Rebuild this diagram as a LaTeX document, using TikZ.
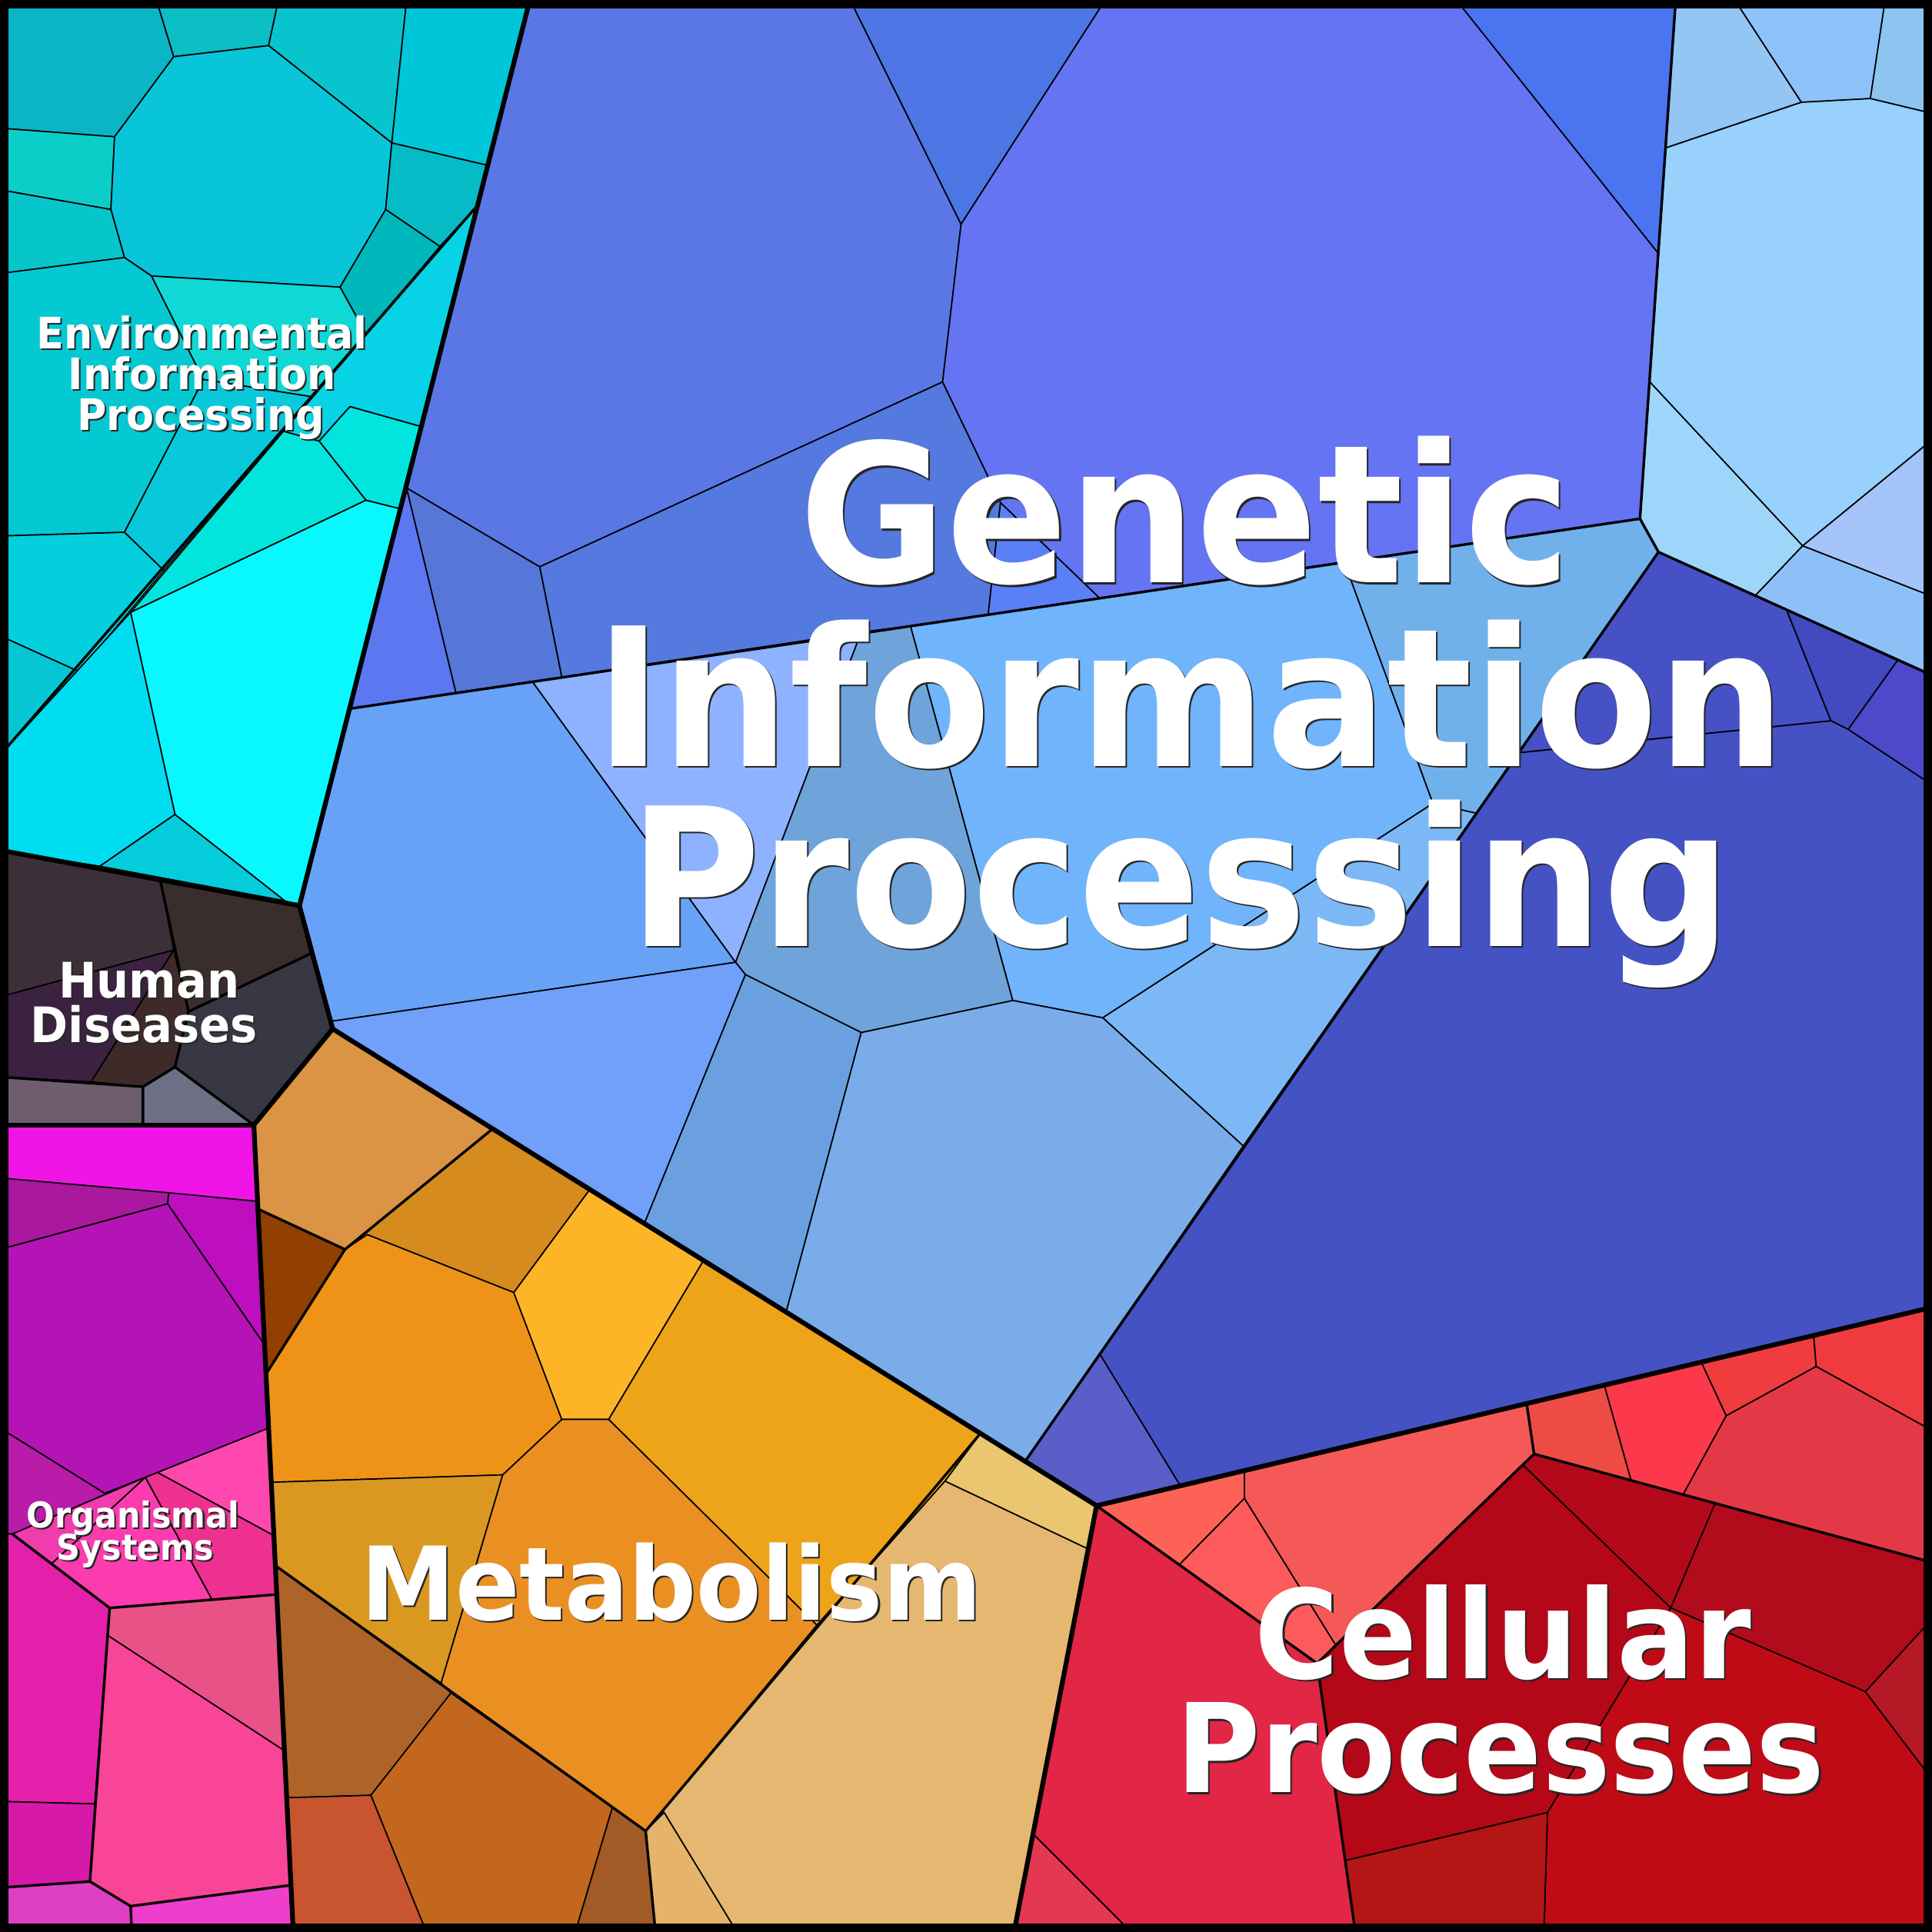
\documentclass[tikz,border=0pt]{standalone}
\usepackage{fontspec}
\usepackage{xcolor}
\usepackage{graphicx}
\newfontfamily\lblfont{DejaVu Sans}
\tikzset{
  cell/.style={draw=black, line width=0.3pt, line join=round},
  cf/.code={\definecolor{cellc}{HTML}{#1}\pgfkeysalso{fill=cellc}},
  mid/.style={draw=black, line width=0.6pt, line join=round, line cap=round},
  sect/.style={draw=black, line width=1.1pt, line join=round, line cap=round},
  lbl/.style={text=white, inner sep=0pt, anchor=base},
}
\newcommand{\shtxt}[1]{\scalebox{0.93}[1]{\rlap{\textcolor{black!85}{\kern0.4pt\raisebox{-0.4pt}{#1}}}#1}}

\begin{document}
\begin{tikzpicture}[x=0.01cm,y=-0.01cm]
  \useasboundingbox (0,0) rectangle (1568,1568);
  % environmental information processing
  \path[cell,cf=0BB5C5] (0,0)--(127,0)--(141,46)--(93,111)--(0,104)--cycle;
  \path[cell,cf=0BBFC4] (127,0)--(226,0)--(218,37)--(141,46)--cycle;
  \path[cell,cf=08C4CC] (226,0)--(330,0)--(318,116)--(218,37)--cycle;
  \path[cell,cf=00C6DA] (330,0)--(430,0)--(395,134)--(318,116)--cycle;
  \path[cell,cf=0CCEC8] (0,104)--(93,111)--(90,170)--(0,154)--cycle;
  \path[cell,cf=08C5DA] (141,46)--(218,37)--(318,116)--(313,170)--(276,233)--(123,224)--(101,209)--(90,170)--(93,111)--cycle;
  \path[cell,cf=05BCC6] (318,116)--(395,134)--(389,165)--(357,200)--(313,170)--cycle;
  \path[cell,cf=00B8BC] (313,170)--(357,200)--(297,271)--(276,233)--cycle;
  \path[cell,cf=06C6CC] (0,154)--(90,170)--(101,209)--(0,222)--cycle;
  \path[cell,cf=04C9D2] (0,222)--(101,209)--(123,224)--(165,308)--(101,432)--(0,435)--cycle;
  \path[cell,cf=0FD8D5] (123,224)--(276,233)--(297,271)--(253,322)--(165,308)--cycle;
  \path[cell,cf=08C8DC] (165,308)--(253,322)--(133,463)--(101,432)--cycle;
  \path[cell,cf=04D0DD] (0,435)--(101,432)--(133,463)--(64,545)--(0,516)--cycle;
  \path[cell,cf=05C6D2] (0,516)--(64,545)--(0,613)--cycle;
  \path[cell,cf=08D3E6] (389,165)--(341,346)--(284,330)--(259,358)--(230,350)--cycle;
  \path[cell,cf=00E6DE] (284,330)--(341,346)--(325,413)--(297,406)--(259,358)--cycle;
  \path[cell,cf=02E5DC] (230,350)--(259,358)--(297,406)--(106,497)--cycle;
  \path[cell,cf=08F8FF] (106,497)--(297,406)--(325,413)--(243,735)--(231,731)--(142,661)--cycle;
  \path[cell,cf=00DDF0] (0,613)--(106,497)--(142,661)--(81,703)--(0,690)--cycle;
  \path[cell,cf=05CCDB] (142,661)--(231,731)--(81,703)--cycle;
  % genetic information processing
  \path[cell,cf=5B77E6] (430,0)--(690,0)--(780,182)--(765,310)--(438,460)--(330,396)--cycle;
  \path[cell,cf=4B76E3] (690,0)--(897,0)--(780,182)--cycle;
  \path[cell,cf=6574F2] (780,182)--(897,0)--(1182,0)--(1347,207)--(1331,421)--(893,486)--(812,408)--(765,310)--cycle;
  \path[cell,cf=4B74F1] (1182,0)--(1360,0)--(1347,207)--cycle;
  \path[cell,cf=5479DF] (438,460)--(765,310)--(812,408)--(802,499)--(456,550)--cycle;
  \path[cell,cf=5A80F7] (812,408)--(893,486)--(802,499)--cycle;
  \path[cell,cf=5B78F0] (330,396)--(370,562)--(285,575)--cycle;
  \path[cell,cf=5677D8] (330,396)--(438,460)--(456,550)--(370,562)--cycle;
  \path[cell,cf=93C6F2] (1360,0)--(1408,0)--(1462,83)--(1352,120)--cycle;
  \path[cell,cf=8DC2FA] (1408,0)--(1530,0)--(1518,80)--(1462,83)--cycle;
  \path[cell,cf=8EC4F0] (1530,0)--(1568,0)--(1568,92)--(1518,80)--cycle;
  \path[cell,cf=97D1FC] (1352,120)--(1462,83)--(1518,80)--(1568,92)--(1568,357)--(1463,443)--(1339,310)--cycle;
  \path[cell,cf=9ED6FB] (1339,310)--(1463,443)--(1424,484)--(1346,448)--(1331,421)--cycle;
  \path[cell,cf=A4C4FA] (1463,443)--(1568,357)--(1568,484)--cycle;
  \path[cell,cf=8EC0F8] (1424,484)--(1463,443)--(1568,484)--(1568,548)--cycle;
  \path[cell,cf=4651C5] (1346,448)--(1450,495)--(1486,585)--(1232,611)--cycle;
  \path[cell,cf=434AC0] (1450,495)--(1540,536)--(1500,592)--(1486,585)--cycle;
  \path[cell,cf=4E49C9] (1540,536)--(1568,548)--(1568,637)--(1500,592)--cycle;
  \path[cell,cf=4552C4] (1232,611)--(1486,585)--(1500,592)--(1568,637)--(1568,1061)--(958,1206)--(892,1098)--cycle;
  \path[cell,cf=5A5EC8] (892,1098)--(958,1206)--(890,1222)--(832,1186)--cycle;
  \path[cell,cf=68A2F7] (285,575)--(432,553)--(597,781)--(268,829)--(243,735)--cycle;
  \path[cell,cf=8EB2FF] (432,553)--(699,513)--(597,781)--cycle;
  \path[cell,cf=6EA4DA] (699,513)--(739,508)--(822,812)--(699,838)--(605,791)--(597,781)--cycle;
  \path[cell,cf=70B4FC] (739,508)--(1091,456)--(1163,652)--(895,826)--(822,812)--cycle;
  \path[cell,cf=70B1EC] (1091,456)--(1331,421)--(1346,448)--(1198,660)--(1163,652)--cycle;
  \path[cell,cf=7CB8F6] (895,826)--(1163,652)--(1198,660)--(1009,930)--cycle;
  \path[cell,cf=70A0F9] (268,829)--(597,781)--(605,791)--(523,993)--(270,835)--cycle;
  \path[cell,cf=6BA0E0] (605,791)--(699,838)--(638,1065)--(523,993)--cycle;
  \path[cell,cf=7AACEA] (699,838)--(822,812)--(895,826)--(1009,930)--(832,1186)--(638,1065)--cycle;
  % human diseases
  \path[cell,cf=3D2F37] (0,690)--(130,714)--(141,771)--(0,809)--cycle;
  \path[cell,cf=3A2E2C] (130,714)--(243,735)--(252,774)--(153,821)--cycle;
  \path[cell,cf=3B2240] (0,809)--(141,771)--(74,878)--(0,874)--cycle;
  \path[cell,cf=3D2A29] (141,771)--(153,821)--(142,866)--(116,882)--(74,878)--cycle;
  \path[cell,cf=373843] (153,821)--(252,774)--(270,835)--(206,913)--(142,866)--cycle;
  \path[cell,cf=6D5D6F] (0,874)--(116,882)--(116,913)--(0,913)--cycle;
  \path[cell,cf=6D6F84] (116,882)--(142,866)--(206,913)--(116,913)--cycle;
  % organismal systems
  \path[cell,cf=F015E6] (0,913)--(206,913)--(209,975)--(0,956)--cycle;
  \path[cell,cf=A9189F] (0,956)--(137,968)--(136,977)--(0,1014)--cycle;
  \path[cell,cf=BD0FBF] (137,968)--(209,975)--(215,1092)--(136,977)--cycle;
  \path[cell,cf=B414B5] (0,1014)--(136,977)--(215,1092)--(218,1159)--(128,1195)--(118,1199)--(85,1212)--(0,1159)--cycle;
  \path[cell,cf=B81CA8] (0,1159)--(85,1212)--(118,1199)--(10,1245)--(0,1245)--cycle;
  \path[cell,cf=F03CAC] (10,1245)--(118,1199)--(42,1269)--cycle;
  \path[cell,cf=FA3CAF] (42,1269)--(118,1199)--(172,1298)--(89,1305)--cycle;
  \path[cell,cf=EE3190] (118,1199)--(128,1195)--(222,1246)--(225,1294)--(172,1298)--cycle;
  \path[cell,cf=FE48B0] (128,1195)--(218,1159)--(222,1246)--cycle;
  \path[cell,cf=E420AA] (0,1245)--(10,1245)--(89,1305)--(77,1464)--(0,1462)--cycle;
  \path[cell,cf=E85287] (89,1305)--(225,1294)--(231,1421)--(87,1327)--cycle;
  \path[cell,cf=F84597] (87,1327)--(231,1421)--(236,1530)--(106,1547)--(73,1527)--(77,1464)--cycle;
  \path[cell,cf=D619A8] (0,1462)--(77,1464)--(73,1527)--(0,1532)--cycle;
  \path[cell,cf=DD40C3] (0,1532)--(73,1527)--(106,1547)--(107,1568)--(0,1568)--cycle;
  \path[cell,cf=EE3FCC] (106,1547)--(236,1530)--(238,1568)--(107,1568)--cycle;
  % metabolism
  \path[cell,cf=DB9344] (270,835)--(400,916)--(280,1014)--(209,981)--(206,913)--cycle;
  \path[cell,cf=D58B1D] (400,916)--(479,965)--(417,1049)--(298,1002)--(280,1014)--cycle;
  \path[cell,cf=924002] (209,981)--(280,1014)--(216,1115)--cycle;
  \path[cell,cf=EE9317] (280,1014)--(298,1002)--(417,1049)--(456,1152)--(408,1197)--(220,1203)--(216,1115)--cycle;
  \path[cell,cf=FDB527] (479,965)--(571,1023)--(494,1152)--(456,1152)--(417,1049)--cycle;
  \path[cell,cf=EEA419] (571,1023)--(796,1163)--(767,1202)--(663,1319)--(494,1152)--cycle;
  \path[cell,cf=DA9821] (220,1203)--(408,1197)--(358,1366)--(224,1271)--cycle;
  \path[cell,cf=EA9022] (408,1197)--(456,1152)--(494,1152)--(663,1319)--(524,1486)--(366,1374)--(358,1366)--cycle;
  \path[cell,cf=E5B770] (767,1202)--(883,1257)--(823,1568)--(598,1568)--(539,1471)--(524,1486)--(663,1319)--cycle;
  \path[cell,cf=E9C66F] (796,1163)--(832,1186)--(890,1222)--(883,1257)--(767,1202)--cycle;
  \path[cell,cf=AE6428] (224,1271)--(358,1366)--(366,1374)--(301,1457)--(233,1459)--cycle;
  \path[cell,cf=C2671D] (366,1374)--(497,1467)--(467,1568)--(346,1568)--(301,1457)--cycle;
  \path[cell,cf=C85430] (233,1459)--(301,1457)--(346,1568)--(238,1568)--cycle;
  \path[cell,cf=A25A26] (497,1467)--(524,1486)--(532,1568)--(467,1568)--cycle;
  \path[cell,cf=E5B46A] (524,1486)--(539,1471)--(598,1568)--(532,1568)--cycle;
  % cellular processes
  \path[cell,cf=FD6256] (890,1222)--(1010,1194)--(1010,1216)--(957,1270)--cycle;
  \path[cell,cf=FD5A5B] (1010,1216)--(957,1270)--(1069,1350)--(1084,1335)--cycle;
  \path[cell,cf=F45957] (1010,1194)--(1239,1139)--(1245,1180)--(1084,1335)--(1010,1216)--cycle;
  \path[cell,cf=EF4B45] (1239,1139)--(1302,1124)--(1324,1202)--(1245,1180)--cycle;
  \path[cell,cf=FC394C] (1302,1124)--(1381,1106)--(1401,1149)--(1366,1213)--(1324,1202)--cycle;
  \path[cell,cf=EF3C3F] (1381,1106)--(1472,1084)--(1474,1109)--(1401,1149)--cycle;
  \path[cell,cf=EF3B3F] (1472,1084)--(1568,1061)--(1568,1161)--(1474,1109)--cycle;
  \path[cell,cf=E43846] (1401,1149)--(1474,1109)--(1568,1161)--(1568,1268)--(1366,1213)--cycle;
  \path[cell,cf=B4091A] (1245,1180)--(1392,1220)--(1356,1305)--(1236,1189)--cycle;
  \path[cell,cf=B40718] (1236,1189)--(1356,1305)--(1256,1471)--(1092,1510)--(1069,1350)--(1084,1335)--cycle;
  \path[cell,cf=B20B1C] (1392,1220)--(1568,1268)--(1568,1314)--(1514,1373)--(1356,1305)--cycle;
  \path[cell,cf=C00B16] (1356,1305)--(1514,1373)--(1568,1444)--(1568,1568)--(1253,1568)--(1256,1471)--cycle;
  \path[cell,cf=B41925] (1514,1373)--(1568,1314)--(1568,1444)--cycle;
  \path[cell,cf=B31614] (1092,1510)--(1256,1471)--(1253,1568)--(1100,1568)--cycle;
  \path[cell,cf=E12646] (890,1222)--(1069,1350)--(1100,1568)--(918,1568)--(839,1489)--cycle;
  \path[cell,cf=E53753] (839,1489)--(918,1568)--(823,1568)--cycle;
  % group borders
  \draw[mid] (389,165)--(0,613);
  \draw[mid] (285,575)--(1331,421);
  \draw[mid] (1360,0)--(1331,421)--(1346,448)--(1568,548);
  \draw[mid] (1346,448)--(832,1186);
  \draw[mid] (130,714)--(153,821)--(252,774);
  \draw[mid] (153,821)--(142,866)--(206,913);
  \draw[mid] (142,866)--(116,882)--(116,913);
  \draw[mid] (0,874)--(116,882);
  \draw[mid] (10,1245)--(89,1305)--(225,1294);
  \draw[mid] (89,1305)--(73,1527)--(106,1547)--(236,1530);
  \draw[mid] (0,1532)--(73,1527);
  \draw[mid] (106,1547)--(107,1568);
  \draw[mid] (209,981)--(280,1014)--(216,1115);
  \draw[mid] (280,1014)--(400,916);
  \draw[mid] (224,1271)--(524,1486)--(796,1163);
  \draw[mid] (524,1486)--(532,1568);
  \draw[mid] (890,1222)--(1069,1350)--(1100,1568);
  \draw[mid] (1239,1139)--(1245,1180)--(1069,1350);
  \draw[mid] (1245,1180)--(1568,1268);
  % top level borders
  \draw[sect] (430,0)--(243,735)--(270,835)--(832,1186)--(890,1222)--(1568,1061);
  \draw[sect] (0,690)--(243,735);
  \draw[sect] (270,835)--(206,913)--(238,1568);
  \draw[sect] (0,913)--(206,913);
  \draw[sect] (890,1222)--(823,1568);
  \draw[black, line width=4pt] (0,0) rectangle (1568,1568);
  % labels
  \node[lbl, font=\lblfont\bfseries\fontsize{44.5}{42}\selectfont] (gip1) at (962,473) {\shtxt{Genetic}};
  \node[lbl, font=\lblfont\bfseries\fontsize{44.5}{42}\selectfont] (gip2) at (966,622) {\shtxt{Information}};
  \node[lbl, font=\lblfont\bfseries\fontsize{44.5}{42}\selectfont] (gip3) at (958,768) {\shtxt{Processing}};
  \node[lbl, font=\lblfont\bfseries\fontsize{10}{9.4}\selectfont] (eip1) at (164,283) {\shtxt{Environmental}};
  \node[lbl, font=\lblfont\bfseries\fontsize{10}{9.4}\selectfont] (eip2) at (164,316) {\shtxt{Information}};
  \node[lbl, font=\lblfont\bfseries\fontsize{10}{9.4}\selectfont] (eip3) at (163,349) {\shtxt{Processing}};
  \node[lbl, font=\lblfont\bfseries\fontsize{11.3}{10.2}\selectfont] (hd1) at (121,810) {\shtxt{Human}};
  \node[lbl, font=\lblfont\bfseries\fontsize{11.3}{10.2}\selectfont] (hd2) at (117,846) {\shtxt{Diseases}};
  \node[lbl, font=\lblfont\bfseries\fontsize{8.2}{7.4}\selectfont] (os1) at (108,1240) {\shtxt{Organismal}};
  \node[lbl, font=\lblfont\bfseries\fontsize{8.2}{7.4}\selectfont] (os2) at (110,1266) {\shtxt{Systems}};
  \node[lbl, font=\lblfont\bfseries\fontsize{23.5}{24}\selectfont] (met) at (545,1315) {\shtxt{Metabolism}};
  \node[lbl, font=\lblfont\bfseries\fontsize{28.5}{26}\selectfont] (cp1) at (1220,1362) {\shtxt{Cellular}};
  \node[lbl, font=\lblfont\bfseries\fontsize{28.5}{26}\selectfont] (cp2) at (1218,1455) {\shtxt{Processes}};
\end{tikzpicture}
\end{document}
